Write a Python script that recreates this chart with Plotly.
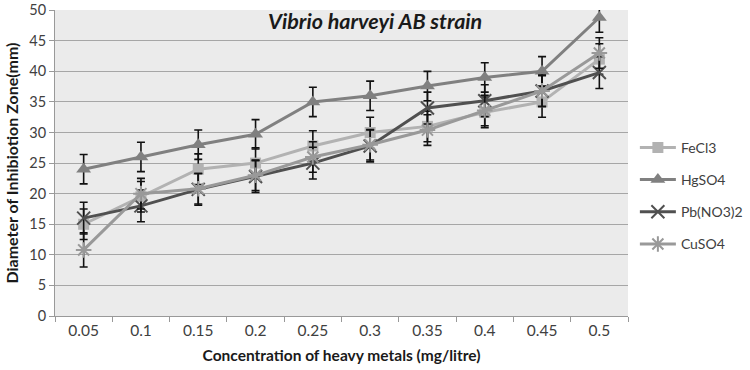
import plotly.graph_objects as go

categories = ["0.05", "0.1", "0.15", "0.2", "0.25", "0.3", "0.35", "0.4", "0.45", "0.5"]
fecl3 = [15, 19.5, 24, 25, 27.8, 30, 31, 33.3, 35, 42]
hgso4 = [24, 26, 28, 29.7, 35, 36, 37.6, 39, 40, 48.8]
pbno3 = [16, 18, 20.7, 22.8, 25, 27.8, 34, 35.2, 36.8, 39.8]
cuso4 = [10.8, 20, 20.8, 23, 26, 28, 30.4, 33.6, 36.8, 43]
err_fecl3 = [2.5] * 10
err_hgso4 = [2.4] * 10
err_pbno3 = [2.6] * 10
err_cuso4 = [2.8, 2.5, 2.5, 2.5, 2.5, 2.5, 2.5, 2.5, 2.5, 2.5]
y_ticks = [0, 5, 10, 15, 20, 25, 30, 35, 40, 45, 50]

series = [
    ("FeCl3", fecl3, err_fecl3, "#b2b2b2", dict(symbol="square", size=11)),
    ("HgSO4", hgso4, err_hgso4, "#808080", dict(symbol="triangle-up", size=13)),
    ("Pb(NO3)2", pbno3, err_pbno3, "#505050", dict(symbol="x-thin-open", size=13, line=dict(width=2, color="#505050"))),
    ("CuSO4", cuso4, err_cuso4, "#999999", dict(symbol="asterisk-open", size=13, line=dict(width=2, color="#a8a8a8"))),
]

fig = go.Figure()
for name, vals, err, color, marker in series:
    m = dict(color=color)
    m.update(marker)
    fig.add_trace(go.Scatter(
        x=categories, y=vals, name=name, mode="lines+markers",
        line=dict(color=color, width=3), marker=m,
        legendgroup=name,
        error_y=dict(type="data", array=err, visible=True, color="#111111", thickness=1.6, width=4),
    ))

FONT = "Lato"
fig.update_layout(
    width=750, height=370,
    margin=dict(l=55, r=122, t=10, b=54, autoexpand=False),
    paper_bgcolor="white", plot_bgcolor="#ebebeb",
    font=dict(family=FONT, color="#404040", size=14),
    showlegend=True,
    legend=dict(x=1.012, xanchor="left", y=0.602, yanchor="top", tracegroupgap=11,
                font=dict(size=14, color="#404040"), itemwidth=36, bgcolor="rgba(0,0,0,0)"),
    xaxis=dict(type="category", range=[-0.5, 9.5], tickson="boundaries", ticks="outside", ticklen=5, tickcolor="#999999",
               showline=True, linecolor="#999999", showgrid=False, automargin=False,
               title=dict(text="<b>Concentration of heavy metals (mg/litre)</b>", font=dict(size=15.5, color="#1a1a1a"), standoff=12),
               tickfont=dict(size=15.5, color="#404040")),
    yaxis=dict(range=[0, 50.03], tickmode="array", tickvals=y_ticks, ticktext=[str(v) for v in y_ticks],
               ticks="outside", ticklen=5, tickcolor="#999999", automargin=False, ticklabeloverflow="allow",
               showline=True, linecolor="#999999", gridcolor="#a6a6a6", gridwidth=1, zeroline=False,
               title=dict(text="<b>Diameter of Inhibiotion Zone(mm)</b>", font=dict(size=16, color="#1a1a1a"), standoff=6),
               tickfont=dict(size=14.5, color="#404040")),
    annotations=[dict(text="<b><i>Vibrio harveyi AB strain</i></b>", xref="paper", yref="paper",
                      x=0.558, y=0.965, xanchor="center", yanchor="middle", showarrow=False,
                      font=dict(size=21.5, color="#1a1a1a", family=FONT))],
)

fig.write_html("out.html", config={"displayModeBar": False},
               post_script="document.body.style.margin='0';")
